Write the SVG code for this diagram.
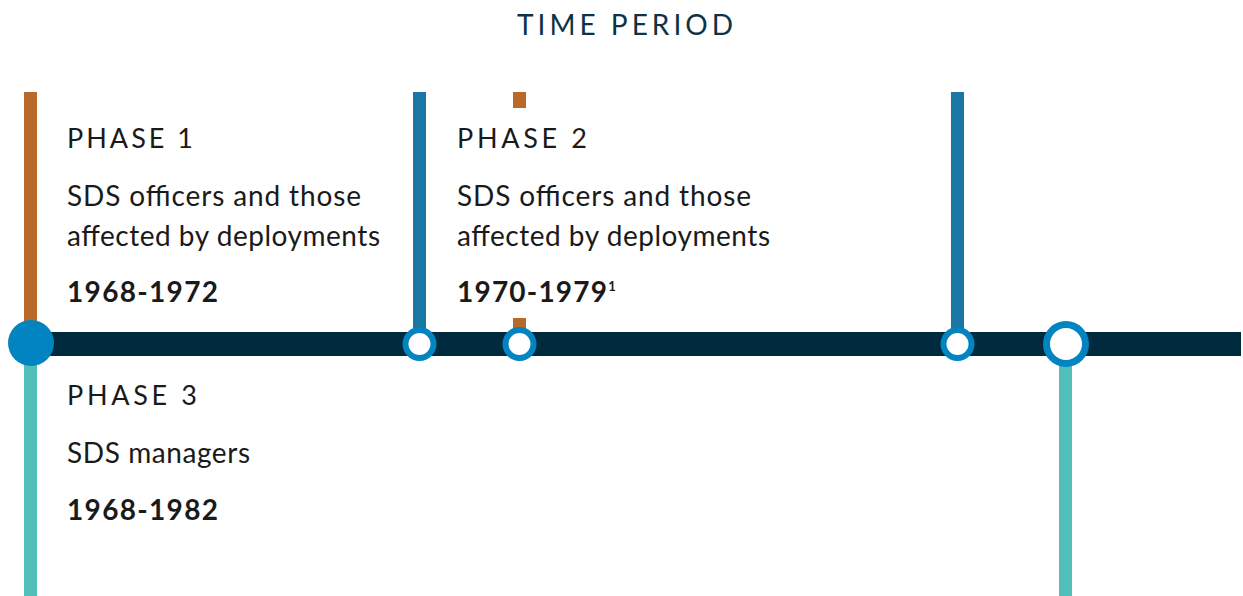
<svg xmlns="http://www.w3.org/2000/svg" width="1243" height="596" viewBox="0 0 1243 596">
<style>
.t{font-family:Lato,"Open Sans",sans-serif;fill:#1a1a1a}
.ph{font-size:27px;letter-spacing:4px}
.bd{font-size:28px}
.yr{font-size:28px;font-weight:bold}
.ring{fill:#fff;stroke:#0284C0;stroke-width:6}
</style>
<rect width="1243" height="596" fill="#fff"/>
<text class="t" x="517" y="35" textLength="216" style="font-size:28px;fill:#0D3345">TIME PERIOD</text>
<g id="lines">
<rect x="24" y="92" width="13" height="240" fill="#B96A2A"/>
<rect x="24" y="356" width="13" height="240" fill="#52C0B8"/>
<rect x="413" y="92" width="13" height="240" fill="#1A77A3"/>
<rect x="513" y="92" width="13" height="16" fill="#B96A2A"/>
<rect x="513" y="318" width="13" height="14" fill="#B96A2A"/>
<rect x="951" y="92" width="13" height="240" fill="#1A77A3"/>
<rect x="1059" y="360" width="13" height="236" fill="#52C0B8"/>
<rect x="30" y="332" width="1211" height="24" fill="#002B3F"/>
</g>
<g id="markers">
<circle cx="31" cy="343" r="23" fill="#0284C0"/>
<circle class="ring" cx="419.5" cy="344" r="14"/>
<circle class="ring" cx="519.5" cy="344" r="14"/>
<circle class="ring" cx="957.5" cy="344" r="14"/>
<circle cx="1066" cy="344" r="19.5" fill="#fff" stroke="#0284C0" stroke-width="7"/>
</g>
<g id="phase1">
<text class="t ph" x="67" y="148" textLength="130">PHASE 1</text>
<text class="t bd" x="67" y="206" textLength="294">SDS officers and those</text>
<text class="t bd" x="67" y="246" textLength="313">affected by deployments</text>
<text class="t yr" x="67" y="302" textLength="151">1968-1972</text>
</g>
<g id="phase2">
<text class="t ph" x="457" y="148" textLength="134">PHASE 2</text>
<text class="t bd" x="457" y="206" textLength="294">SDS officers and those</text>
<text class="t bd" x="457" y="246" textLength="313">affected by deployments</text>
<text class="t yr" x="457" y="302"><tspan textLength="150">1970-1979</tspan><tspan style="font-size:13px" dy="-11">1</tspan></text>
</g>
<g id="phase3">
<text class="t ph" x="67" y="405" textLength="134">PHASE 3</text>
<text class="t bd" x="67" y="463" textLength="183">SDS managers</text>
<text class="t yr" x="67" y="520" textLength="151">1968-1982</text>
</g>
</svg>
